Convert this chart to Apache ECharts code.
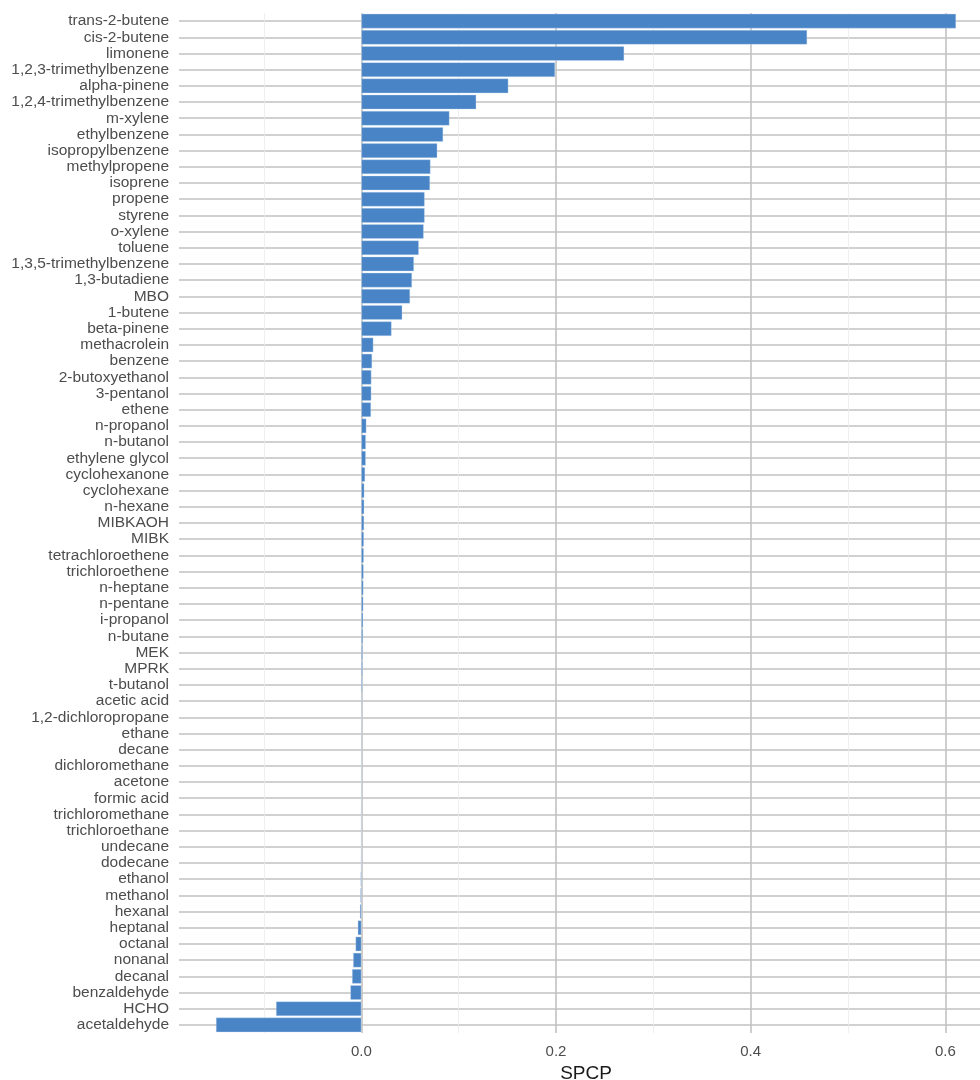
<!DOCTYPE html>
<html>
<head>
<meta charset="utf-8">
<script src="https://cdn.jsdelivr.net/npm/echarts@6/dist/echarts.min.js"></script>
<style>
html,body{margin:0;padding:0;background:#fff;}
#chart{width:980px;height:1080px;}
</style>
</head>
<body>
<div id="chart"></div>
<script>
const categories = [
  "trans-2-butene","cis-2-butene","limonene","1,2,3-trimethylbenzene","alpha-pinene",
  "1,2,4-trimethylbenzene","m-xylene","ethylbenzene","isopropylbenzene","methylpropene",
  "isoprene","propene","styrene","o-xylene","toluene","1,3,5-trimethylbenzene",
  "1,3-butadiene","MBO","1-butene","beta-pinene","methacrolein","benzene",
  "2-butoxyethanol","3-pentanol","ethene","n-propanol","n-butanol","ethylene glycol",
  "cyclohexanone","cyclohexane","n-hexane","MIBKAOH","MIBK","tetrachloroethene",
  "trichloroethene","n-heptane","n-pentane","i-propanol","n-butane","MEK","MPRK",
  "t-butanol","acetic acid","1,2-dichloropropane","ethane","decane","dichloromethane",
  "acetone","formic acid","trichloromethane","trichloroethane","undecane","dodecane",
  "ethanol","methanol","hexanal","heptanal","octanal","nonanal","decanal",
  "benzaldehyde","HCHO","acetaldehyde"
];
const spcp = [
  0.611, 0.458, 0.270, 0.199, 0.151,
  0.118, 0.0905, 0.084, 0.078, 0.071,
  0.0705, 0.065, 0.065, 0.064, 0.059, 0.054,
  0.052, 0.050, 0.042, 0.031, 0.0123, 0.011,
  0.0103, 0.0102, 0.0099, 0.0051, 0.0046, 0.0045,
  0.0038, 0.0030, 0.0029, 0.0028, 0.0026, 0.0025,
  0.0023, 0.0021, 0.0020, 0.0018, 0.0016, 0.0013, 0.0012,
  0.0010, 0.0006, 0.0005, 0.0003, 0.0002, 0.0001,
  0.0001, 0.0001, 0.0, 0.0, -0.0001, -0.0003,
  -0.0008, -0.0010, -0.0015, -0.0037, -0.0060, -0.0085, -0.0096,
  -0.0113, -0.0877, -0.1494
];
const majorTicks = [0, 0.2, 0.4, 0.6];
const minorTicks = [-0.1, 0.1, 0.3, 0.5];
const xMin = -0.1874, xMax = 0.649;

const chart = echarts.init(document.getElementById('chart'), null, {renderer: 'canvas'});
const font = '"Liberation Sans", Arial, Helvetica, sans-serif';
chart.setOption({
  animation: false,
  backgroundColor: '#ffffff',
  grid: {left: 179, top: 13, width: 814, height: 1020, containLabel: false, outerBoundsMode: 'none'},
  xAxis: [
    {
      type: 'value', min: xMin, max: xMax, position: 'bottom',
      name: 'SPCP', nameLocation: 'middle', nameGap: 30,
      nameTextStyle: {fontFamily: font, fontSize: 19, color: '#1a1a1a'},
      axisLine: {show: false},
      axisTick: {show: false, customValues: majorTicks},
      axisLabel: {customValues: majorTicks, fontFamily: font, fontSize: 15, color: '#4d4d4d', margin: 11,
        formatter: v => v.toFixed(1)},
      splitLine: {show: true, lineStyle: {color: '#c2c2c2', width: 1.6}}
    },
    {
      type: 'value', min: xMin, max: xMax, position: 'bottom',
      axisLine: {show: false},
      axisTick: {show: false, customValues: minorTicks},
      axisLabel: {show: false, customValues: minorTicks},
      splitLine: {show: true, lineStyle: {color: '#ebebeb', width: 0.8}}
    }
  ],
  yAxis: {
    type: 'category', data: categories, inverse: true,
    axisLine: {show: false},
    axisTick: {show: false},
    axisLabel: {interval: 0, fontFamily: font, fontSize: 15.5, color: '#4d4d4d', margin: 10},
    splitLine: {show: true, interval: 0, alignWithLabel: true, lineStyle: {color: '#c2c2c2', width: 1.6}}
  },
  series: [{
    type: 'bar', data: spcp, xAxisIndex: 0,
    barCategoryGap: '10%',
    itemStyle: {color: '#4884c6', borderColor: 'rgba(200,220,240,0.7)', borderWidth: 0.5}
  }]
});
</script>
</body>
</html>
